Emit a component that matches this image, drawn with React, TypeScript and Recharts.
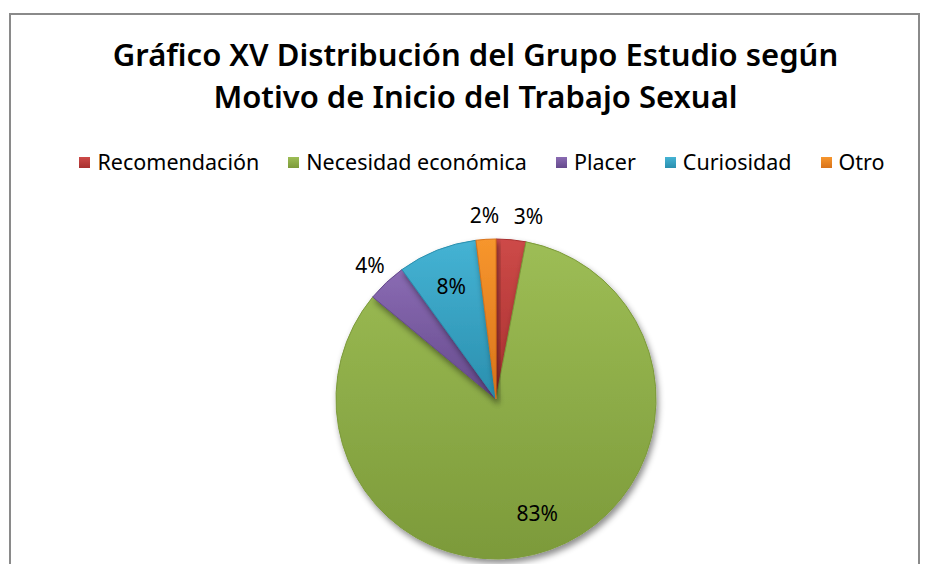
import React from "react";
import { PieChart, Pie, Cell } from "recharts";

const titleLines = [
  "Gráfico XV Distribución del Grupo Estudio según",
  "Motivo de Inicio del Trabajo Sexual",
];
const categories = ["Recomendación", "Necesidad económica", "Placer", "Curiosidad", "Otro"];
const values = [3, 83, 4, 8, 2];
const colorsTop = ["#cd4a48", "#9dbd55", "#8a6bb3", "#45b3d4", "#f7962d"];
const colorsBottom = ["#a8302f", "#7c9a3a", "#654a8c", "#2a8fae", "#d8731a"];

const data = categories.map((name, i) => ({ name, value: values[i] }));
const RAD = Math.PI / 180;
const CX = 496;
const CY = 399;
const R = 160;
const START = 90;
const OUT_GAP = 24;
const MIN_SEP = 44;

// Pre-compute horizontal nudges so that adjacent outside labels do not overlap
const total = values.reduce((a, b) => a + b, 0);
const nudges: number[] = (() => {
  let acc = 0;
  const pos = values.map((v) => {
    const mid = START - ((acc + v / 2) / total) * 360;
    acc += v;
    const inside = v >= 5;
    const r = R + OUT_GAP;
    return {
      inside,
      x: CX + r * Math.cos(-mid * RAD),
      y: CY + r * Math.sin(-mid * RAD),
    };
  });
  const n = values.map(() => 0);
  const outs = pos.map((p, i) => ({ ...p, i })).filter((p) => !p.inside);
  for (let a = 0; a < outs.length; a++) {
    for (let b = a + 1; b < outs.length; b++) {
      const pa = outs[a];
      const pb = outs[b];
      if (Math.abs(pa.y - pb.y) < 22 && Math.abs(pa.x - pb.x) < MIN_SEP) {
        const right = pa.x > pb.x ? pa : pb;
        const left = right === pa ? pb : pa;
        n[right.i] += MIN_SEP - (right.x - left.x);
      }
    }
  }
  return n;
})();

const renderLabel = (props: any) => {
  const { cx, cy, midAngle, outerRadius, value, index } = props;
  const inside = value >= 5;
  const r = inside ? outerRadius * 0.76 : outerRadius + OUT_GAP;
  const x = cx + r * Math.cos(-midAngle * RAD) + (inside ? 0 : nudges[index] || 0);
  const y = cy + r * Math.sin(-midAngle * RAD);
  return (
    <text
      x={x}
      y={y}
      textAnchor="middle"
      dominantBaseline="central"
      fill="#000"
      fontSize={21}
      fontFamily="'Noto Sans', sans-serif"
    >
      {`${value}%`}
    </text>
  );
};

export default function App() {
  return (
    <div style={{ position: "absolute", left: 0, top: 0, width: 931, height: 564, background: "#fff", overflow: "hidden" }}>
      <svg width={0} height={0} style={{ position: "absolute" }}>
        <defs>
          {categories.map((c, i) => (
            <linearGradient key={c} id={`g${i}`} x1="0" y1="0" x2="0" y2="1">
              <stop offset="0%" stopColor={colorsTop[i]} />
              <stop offset="100%" stopColor={colorsBottom[i]} />
            </linearGradient>
          ))}
          <filter id="shadow" x="-20%" y="-20%" width="140%" height="140%">
            <feDropShadow dx="2" dy="4" stdDeviation="3" floodColor="#000" floodOpacity="0.45" />
          </filter>
        </defs>
      </svg>
      <div
        style={{
          position: "absolute",
          left: 9,
          top: 13,
          width: 911,
          height: 600,
          border: "2px solid #8a8a8a",
          boxSizing: "border-box",
        }}
      />
      <div
        style={{
          position: "absolute",
          left: 0,
          top: 33,
          width: 951,
          textAlign: "center",
          fontFamily: "'Noto Sans', sans-serif",
          fontWeight: 600,
          fontSize: 31,
          lineHeight: "42px",
          color: "#000",
        }}
      >
        {titleLines.map((t) => (
          <div key={t}>{t}</div>
        ))}
      </div>
      <div
        style={{
          position: "absolute",
          left: 0,
          top: 149,
          width: 964,
          display: "flex",
          justifyContent: "center",
          gap: 29,
          fontFamily: "'Noto Sans', sans-serif",
          fontSize: 21.5,
          color: "#000",
          lineHeight: "26px",
        }}
      >
        {categories.map((c, i) => (
          <div key={c} style={{ display: "flex", alignItems: "center", gap: 7 }}>
            <span
              style={{
                display: "inline-block",
                width: 11,
                height: 11,
                background: `linear-gradient(${colorsTop[i]}, ${colorsBottom[i]})`,
              }}
            />
            <span>{c}</span>
          </div>
        ))}
      </div>
      <div style={{ position: "absolute", left: 0, top: 0 }}>
        <PieChart width={931} height={564} margin={{ top: 0, right: 0, bottom: 0, left: 0 }}>
          <Pie
            data={data}
            dataKey="value"
            nameKey="name"
            cx={CX}
            cy={CY}
            outerRadius={R}
            startAngle={START}
            endAngle={START - 360}
            label={renderLabel}
            labelLine={false}
            isAnimationActive={false}
            style={{ filter: "url(#shadow)" }}
          >
            {data.map((d, i) => (
              <Cell key={d.name} fill={`url(#g${i})`} stroke={colorsBottom[i]} strokeWidth={1} />
            ))}
          </Pie>
        </PieChart>
      </div>
    </div>
  );
}
